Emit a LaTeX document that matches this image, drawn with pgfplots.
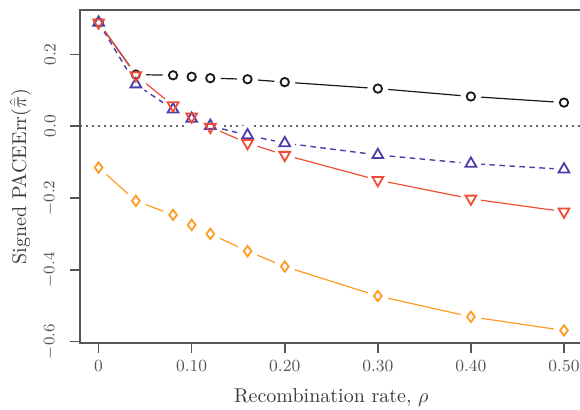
\documentclass[border=0pt]{standalone}
\usepackage{pgfplots}
\pgfplotsset{compat=1.18}
\usepackage{pgfplotstable}
\definecolor{rblack}{RGB}{25,25,25}
\definecolor{rblue}{RGB}{75,62,170}
\definecolor{rred}{RGB}{240,78,52}
\definecolor{rorange}{RGB}{255,155,35}
\definecolor{axgray}{RGB}{85,85,85}

\pgfplotstableread{
x y
0    0.289
0.04 0.144
0.08 0.142
0.10 0.138
0.12 0.134
0.16 0.131
0.20 0.123
0.30 0.105
0.40 0.083
0.50 0.066
}\blackdata
\pgfplotstableread{
x y
0    0.289
0.04 0.117
0.08 0.047
0.10 0.021
0.12 0.001
0.16 -0.025
0.20 -0.047
0.30 -0.080
0.40 -0.104
0.50 -0.120
}\bluedata
\pgfplotstableread{
x y
0    0.289
0.04 0.142
0.08 0.058
0.10 0.027
0.12 -0.002
0.16 -0.047
0.20 -0.080
0.30 -0.150
0.40 -0.202
0.50 -0.238
}\reddata
\pgfplotstableread{
x y
0    -0.115
0.04 -0.208
0.08 -0.247
0.10 -0.275
0.12 -0.300
0.16 -0.348
0.20 -0.391
0.30 -0.473
0.40 -0.531
0.50 -0.569
}\orangedata

\begin{document}
\begin{tikzpicture}
\begin{axis}[
  name=ax,
  scale only axis,
  width=251.3pt, height=166.5pt,
  xmin=-0.02, xmax=0.52,
  ymin=-0.604, ymax=0.324,
  axis on top,
  axis line style={axgray, line width=0.8pt},
  tick style={axgray, line width=0.8pt},
  tick align=outside,
  major tick length=5pt,
  xtick pos=left, ytick pos=left,
  xtick={0,0.1,0.2,0.3,0.4,0.5},
  xticklabels={0,0.10,0.20,0.30,0.40,0.50},
  ytick={-0.6,-0.4,-0.2,0,0.2},
  yticklabels={$-0.6$,$-0.4$,$-0.2$,0.0,0.2},
  tick label style={font=\fontsize{8.5}{10}\selectfont, text=axgray},
  yticklabel style={rotate=90, anchor=south, yshift=3.5pt},
  xlabel={Recombination rate, $\rho$},
  ylabel={Signed PACEErr$(\hat{\bar{\pi}})$},
  label style={font=\normalsize, text=axgray!70!black},
  xlabel style={at={(axis description cs:0.5,-0.165)}, anchor=center},
  ylabel style={at={(axis description cs:-0.119,0.5)}, anchor=center},
  clip=false,
]
% lines
\addplot[rblack, line width=0.6pt, forget plot] table {\blackdata};
\addplot[rblue, line width=0.7pt, dash pattern=on 2.8pt off 2.2pt, forget plot] table {\bluedata};
\addplot[rred, line width=0.6pt, forget plot] table {\reddata};
\addplot[rorange, line width=0.6pt, forget plot] table {\orangedata};
% white gaps around the points
\addplot[only marks, mark=*, mark size=5pt, white, forget plot] table {\blackdata};
\addplot[only marks, mark=*, mark size=5pt, white, forget plot] table {\bluedata};
\addplot[only marks, mark=*, mark size=5pt, white, forget plot] table {\reddata};
\addplot[only marks, mark=*, mark size=5pt, white, forget plot] table {\orangedata};
% zero line
\draw[gray!80!black, line width=0.8pt, dash pattern=on 0.8pt off 2.2pt]
  (axis cs:-0.02,0) -- (axis cs:0.52,0);
% markers
\addplot[only marks, mark=o, mark size=2.1pt, rblack, mark options={line width=0.9pt}] table {\blackdata};
\addplot[only marks, mark=triangle, mark size=3.1pt, rblue, mark options={line width=0.9pt}] table {\bluedata};
\addplot[only marks, mark=triangle, mark size=3.1pt, rred, mark options={line width=0.9pt, rotate=180}] table {\reddata};
\addplot[only marks, mark=diamond, mark size=2.6pt, rorange, mark options={line width=0.9pt}] table {\orangedata};
\end{axis}
\pgfresetboundingbox
\path[use as bounding box] ([xshift=-40pt,yshift=-33.5pt]ax.south west) rectangle ([xshift=250pt,yshift=5pt]ax.north west);
\end{tikzpicture}
\end{document}
